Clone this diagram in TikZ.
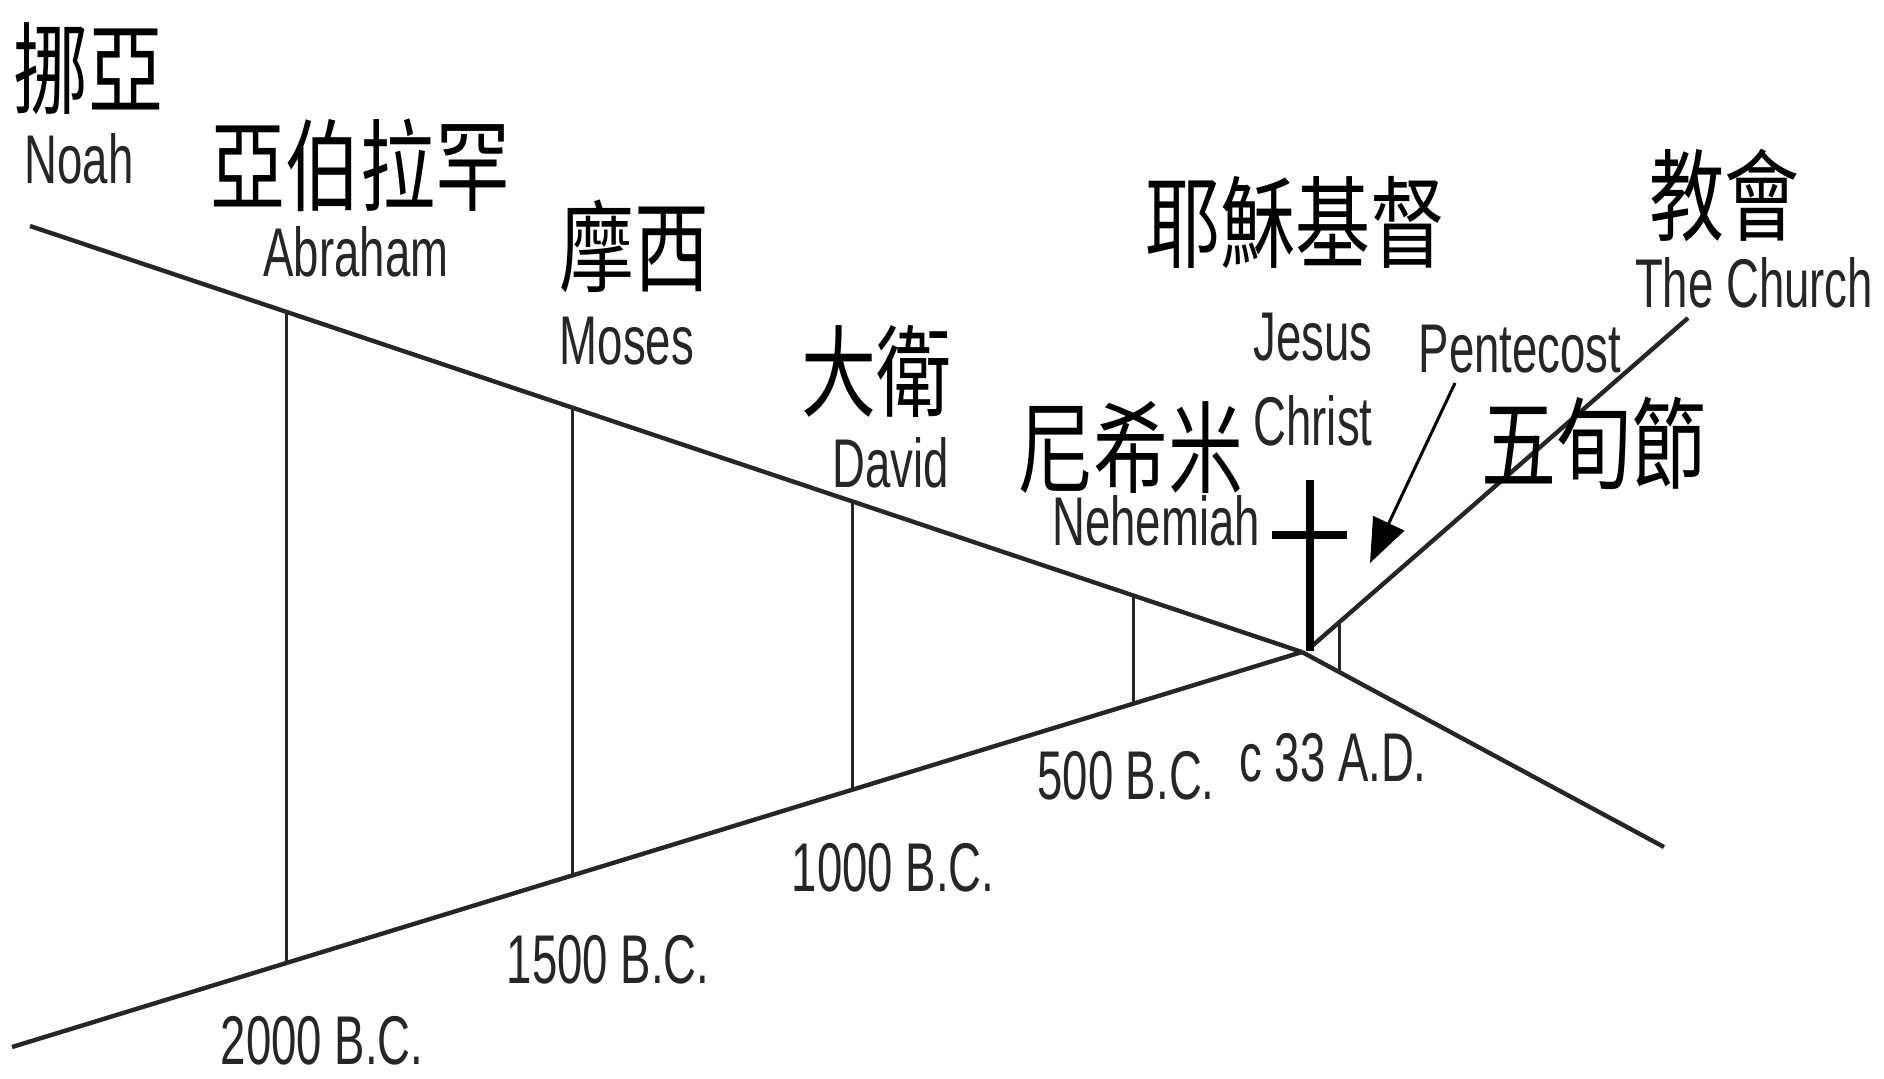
\documentclass[tikz,border=0pt]{standalone}
\usepackage{fontspec}
\newfontfamily\latf[FakeStretch=0.66]{Liberation Sans}
\newfontfamily\cjkf[FakeStretch=0.75]{Noto Sans CJK TC}
\usetikzlibrary{arrows.meta}
\begin{document}
\begin{tikzpicture}[x=0.5pt,y=-0.5pt,
  lat/.style={font=\latf\fontsize{34.5}{40}\selectfont, text=black!85, inner sep=0pt, anchor=base},
  cjk/.style={font=\cjkf\fontsize{50}{56}\selectfont, text=black, inner sep=0pt, anchor=center},
  mainline/.style={line width=2.2pt, black!85},
  tickline/.style={line width=1.5pt, black!85},
  crossline/.style={line width=3.6pt, black},
  arrowline/.style={line width=1.5pt, black, -{Triangle[length=22pt,width=17pt]}}]
\useasboundingbox (0,0) rectangle (1884,1078);
% key points
\coordinate (U0) at (30,226);
\coordinate (L0) at (12,1047);
\coordinate (A) at (1302,652);
\coordinate (D1) at (1664,847);
\coordinate (C0) at (1312,646);
\coordinate (C1) at (1688,318);
% main lines
\draw[mainline] (U0) -- (A);
\draw[mainline] (L0) -- (A);
\draw[mainline] (A) -- (D1);
\draw[mainline] (C0) -- (C1);
% era ticks
\coordinate (t1a) at (286,312);  \coordinate (t1b) at (286,963);
\coordinate (t2a) at (572,408);  \coordinate (t2b) at (572,875);
\coordinate (t3a) at (852,501);  \coordinate (t3b) at (852,790);
\coordinate (t4a) at (1133,597); \coordinate (t4b) at (1133,703);
\coordinate (t5a) at (1339,624); \coordinate (t5b) at (1339,671);
\draw[tickline] (t1a) -- (t1b);
\draw[tickline] (t2a) -- (t2b);
\draw[tickline] (t3a) -- (t3b);
\draw[tickline] (t4a) -- (t4b);
\draw[tickline] (t5a) -- (t5b);
% cross
\coordinate (xt) at (1310,480);
\coordinate (xb) at (1310,651);
\coordinate (xl) at (1272,535);
\coordinate (xr) at (1347,535);
\draw[crossline] (xt) -- (xb);
\draw[crossline] (xl) -- (xr);
% pentecost arrow
\coordinate (p0) at (1455,383);
\coordinate (p1) at (1370,563);
\draw[arrowline] (p0) -- (p1);
% names
\node[cjk] (noahc) at (88,69) {挪亞};
\node[lat] (noah) at (79,183) {Noah};
\node[cjk] (abrc) at (360,165) {亞伯拉罕};
\node[lat] (abr) at (356,276) {Abraham};
\node[cjk] (mosc) at (634,246) {摩西};
\node[lat] (mos) at (627,364) {Moses};
\node[cjk] (davc) at (876,371) {大衛};
\node[lat] (dav) at (891,487) {David};
\node[cjk] (nehc) at (1131,447) {尼希米};
\node[lat] (neh) at (1156,545) {Nehemiah};
\node[cjk] (jesc) at (1295,222) {耶穌基督};
\node[lat] (jes) at (1313,360) {Jesus};
\node[lat] (chr) at (1313,445) {Christ};
\node[lat] (pen) at (1520,372) {Pentecost};
\node[cjk] (penc) at (1594,443) {五旬節};
\node[cjk] (chuc) at (1724,195) {教會};
\node[lat] (chu) at (1754,307) {The Church};
% dates
\node[lat] (d500) at (1126,799) {500 B.C.};
\node[lat] (d33) at (1333,781) {c 33 A.D.};
\node[lat] (d1000) at (893,891) {1000 B.C.};
\node[lat] (d1500) at (608,983) {1500 B.C.};
\node[lat] (d2000) at (322,1064) {2000 B.C.};
\end{tikzpicture}
\end{document}
